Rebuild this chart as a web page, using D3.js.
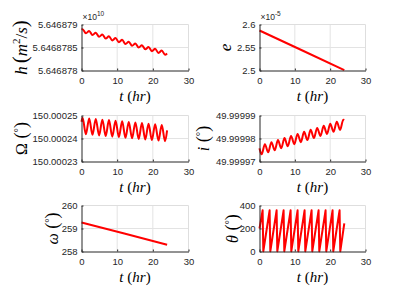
<!DOCTYPE html>
<html>
<head>
<meta charset="utf-8">
<script src="https://cdn.jsdelivr.net/npm/d3@7"></script>
<style>
  body { margin: 0; background: #fff; }
  svg { display: block; font-family: "Liberation Sans", Arial, sans-serif; }
</style>
</head>
<body>
<svg id="fig" width="404" height="304"></svg>
<script>
// ---- values ----
const tTicks = [0, 10, 20, 30];

// h (x1e10 m^2/s), oscillating, peaks/troughs
const hT = [0, 0.3, 1.23, 2.15, 3.08, 4.0, 4.93, 5.85, 6.78, 7.7, 8.63, 9.55, 10.48, 11.4,
  12.33, 13.25, 14.18, 15.1, 16.03, 16.95, 17.88, 18.8, 19.73, 20.65, 21.58, 22.5, 23.43, 24];
const hVals = [5.646878888, 5.646878899, 5.646878809, 5.646878860, 5.646878770, 5.646878821,
  5.646878732, 5.646878782, 5.646878693, 5.646878743, 5.646878654, 5.646878705, 5.646878615,
  5.646878666, 5.646878576, 5.646878627, 5.646878537, 5.646878588, 5.646878498, 5.646878549,
  5.646878460, 5.646878510, 5.646878421, 5.646878471, 5.646878382, 5.646878433, 5.646878343,
  5.646878370];
const hTicks = [5.646878, 5.6468785, 5.646879];
const hTickLabels = ["5.646878", "5.6468785", "5.646879"];

// e (x1e-5)
const eT = [0, 12, 24];
const eVals = [2.587, 2.544, 2.501];
const eTicks = [2.5, 2.55, 2.6];
const eTickLabels = ["2.5", "2.55", "2.6"];

// RAAN (deg)
const raanT = hT;
const raanVals = [150.0002473, 150.0002490, 150.0002418, 150.0002487, 150.0002416, 150.0002485,
  150.0002413, 150.0002482, 150.0002411, 150.0002480, 150.0002408, 150.0002477, 150.0002406,
  150.0002475, 150.0002403, 150.0002472, 150.0002401, 150.0002470, 150.0002398, 150.0002467,
  150.0002396, 150.0002464, 150.0002393, 150.0002462, 150.0002391, 150.0002459, 150.0002388,
  150.0002435];
const raanTicks = [150.00023, 150.00024, 150.00025];
const raanTickLabels = ["150.00023", "150.00024", "150.00025"];

// inclination (deg)
const incT = [0, 0.6, 1.53, 2.45, 3.38, 4.3, 5.23, 6.15, 7.08, 8.0, 8.93, 9.85, 10.78, 11.7,
  12.63, 13.55, 14.48, 15.4, 16.33, 17.25, 18.18, 19.1, 20.03, 20.95, 21.88, 22.8, 23.73, 24];
const incVals = [49.9999757, 49.9999731, 49.9999775, 49.9999740, 49.9999784, 49.9999749,
  49.9999793, 49.9999758, 49.9999802, 49.9999766, 49.9999811, 49.9999775, 49.9999820,
  49.9999784, 49.9999829, 49.9999793, 49.9999838, 49.9999802, 49.9999846, 49.9999811,
  49.9999855, 49.9999820, 49.9999864, 49.9999829, 49.9999873, 49.9999837, 49.9999882,
  49.9999881];
const incTicks = [49.99997, 49.99998, 49.99999];
const incTickLabels = ["49.99997", "49.99998", "49.99999"];

// argument of perigee (deg)
const argpT = [0, 12, 24];
const argpVals = [259.26, 258.78, 258.29];
const argpTicks = [258, 259, 260];
const argpTickLabels = ["258", "259", "260"];

// true anomaly (deg), sawtooth
const thetaT = [0, 0.88, 1.08, 2.86, 3.06, 4.84, 5.04, 6.82, 7.02, 8.80, 9.00, 10.78, 10.98,
  12.76, 12.96, 14.74, 14.94, 16.72, 16.92, 18.70, 18.90, 20.68, 20.88, 22.66, 22.86, 24];
const thetaVals = [200, 358, 2, 358, 2, 358, 2, 358, 2, 358, 2, 358, 2, 358, 2, 358, 2,
  358, 2, 358, 2, 358, 2, 358, 2, 244];
const thetaTicks = [0, 200, 400];
const thetaTickLabels = ["0", "200", "400"];

// ---- drawing ----
const svg = d3.select("#fig");
const red = "#ff0000";
const ink = "#262626";

function panel(p) {
  const x = d3.scaleLinear().domain([0, 30]).range([p.left, p.right]);
  const y = d3.scaleLinear().domain([p.yTicks[0], p.yTicks[2]]).range([p.bottom, p.top]);
  const g = svg.append("g");

  // grid + light box
  g.selectAll(".gx").data(tTicks.slice(1, -1)).join("line")
    .attr("x1", d => x(d)).attr("x2", d => x(d))
    .attr("y1", p.top).attr("y2", p.bottom)
    .attr("stroke", "#e3e3e3");
  g.append("line")
    .attr("x1", p.left).attr("x2", p.right)
    .attr("y1", y(p.yTicks[1])).attr("y2", y(p.yTicks[1]))
    .attr("stroke", "#e3e3e3");
  g.append("path")
    .attr("d", `M${p.left},${p.top}H${p.right}V${p.bottom}`)
    .attr("fill", "none").attr("stroke", "#dedede");

  const line = d3.line()
    .x(d => x(d[0])).y(d => y(d[1]))
    .curve(p.curve || d3.curveLinear);
  g.append("path")
    .datum(d3.zip(p.t, p.v))
    .attr("d", line)
    .attr("fill", "none")
    .attr("stroke", red)
    .attr("stroke-width", 2)
    .attr("stroke-linejoin", "round");

  const xa = g.append("g")
    .attr("transform", `translate(0,${p.bottom})`)
    .call(d3.axisBottom(x).tickValues(tTicks).tickSize(-2).tickPadding(7).tickSizeOuter(0));
  const ya = g.append("g")
    .attr("transform", `translate(${p.left},0)`)
    .call(d3.axisLeft(y).tickValues(p.yTicks).tickSize(-2).tickPadding(4).tickSizeOuter(0)
      .tickFormat((d, i) => p.yLabels[i]));
  [xa, ya].forEach(a => {
    a.select(".domain").attr("stroke", ink);
    a.selectAll(".tick line").attr("stroke", ink);
    a.selectAll(".tick text").attr("fill", ink).attr("font-size", "9.5px")
      .attr("font-family", "Liberation Sans, Arial, sans-serif");
  });

  // x label: t (hr)
  const xl = g.append("text")
    .attr("x", (p.left + p.right) / 2)
    .attr("y", p.bottom + 30.5)
    .attr("text-anchor", "middle")
    .attr("font-family", "Liberation Serif, serif")
    .attr("font-size", "15px")
    .attr("fill", "#000");
  xl.append("tspan").attr("font-style", "italic").text("t");
  xl.append("tspan").text(" (");
  xl.append("tspan").attr("font-style", "italic").text("hr");
  xl.append("tspan").text(")");

  // y label
  const yl = g.append("text")
    .attr("transform", `translate(${p.labelX},${(p.top + p.bottom) / 2}) rotate(-90)`)
    .attr("text-anchor", "middle")
    .attr("font-family", "Liberation Serif, serif")
    .attr("font-size", "16px")
    .attr("fill", "#000");
  p.ylabel(yl);

  // exponent
  if (p.expo) {
    const ex = g.append("text")
      .attr("x", p.left + 1).attr("y", p.top - 5)
      .attr("font-size", "8.5px").attr("fill", ink);
    ex.append("tspan").text("\u00d710");
    ex.append("tspan").attr("font-size", "6.5px").attr("dy", -3.5).text(p.expo);
  }
}

function degLabel(sym, italic) {
  return t => {
    t.append("tspan").attr("font-style", italic ? "italic" : "normal").text(sym);
    t.append("tspan").attr("font-size", "18px").text(" (");
    t.append("tspan").attr("font-size", "11px").attr("dy", -5).text("\u00b0");
    t.append("tspan").attr("font-size", "18px").attr("dy", 5).text(")");
  };
}

const L = 81.5, R = 188.5, L2 = 259.5, R2 = 365.5;

panel({
  left: L, right: R, top: 24.5, bottom: 70.5,
  t: hT, v: hVals, curve: d3.curveMonotoneX,
  yTicks: hTicks, yLabels: hTickLabels, expo: "10", labelX: 27,
  ylabel: t => {
    t.append("tspan").attr("font-style", "italic").attr("font-size", "17px").text("h");
    t.append("tspan").attr("font-size", "21px").attr("dx", 3).text("(");
    t.append("tspan").attr("font-style", "italic").attr("font-size", "17px").text("m");
    t.append("tspan").attr("font-size", "11px").attr("dy", -7).text("2");
    t.append("tspan").attr("font-size", "17px").attr("dy", 7).text("/");
    t.append("tspan").attr("font-style", "italic").attr("font-size", "17px").text("s");
    t.append("tspan").attr("font-size", "21px").text(")");
  }
});

panel({
  left: L2, right: R2, top: 24.5, bottom: 70.5,
  t: eT, v: eVals,
  yTicks: eTicks, yLabels: eTickLabels, expo: "-5", labelX: 231,
  ylabel: t => t.append("tspan").attr("font-style", "italic").attr("font-size", "17px").text("e")
});

panel({
  left: L, right: R, top: 115.5, bottom: 161.5,
  t: raanT, v: raanVals, curve: d3.curveMonotoneX,
  yTicks: raanTicks, yLabels: raanTickLabels, labelX: 27,
  ylabel: degLabel("\u03a9", false)
});

panel({
  left: L2, right: R2, top: 115.5, bottom: 161.5,
  t: incT, v: incVals, curve: d3.curveMonotoneX,
  yTicks: incTicks, yLabels: incTickLabels, labelX: 209,
  ylabel: degLabel("i", true)
});

panel({
  left: L, right: R, top: 205.5, bottom: 251.5,
  t: argpT, v: argpVals,
  yTicks: argpTicks, yLabels: argpTickLabels, labelX: 58,
  ylabel: degLabel("\u03c9", true)
});

panel({
  left: L2, right: R2, top: 205.5, bottom: 251.5,
  t: thetaT, v: thetaVals,
  yTicks: thetaTicks, yLabels: thetaTickLabels, labelX: 238,
  ylabel: degLabel("\u03b8", true)
});
</script>
</body>
</html>
